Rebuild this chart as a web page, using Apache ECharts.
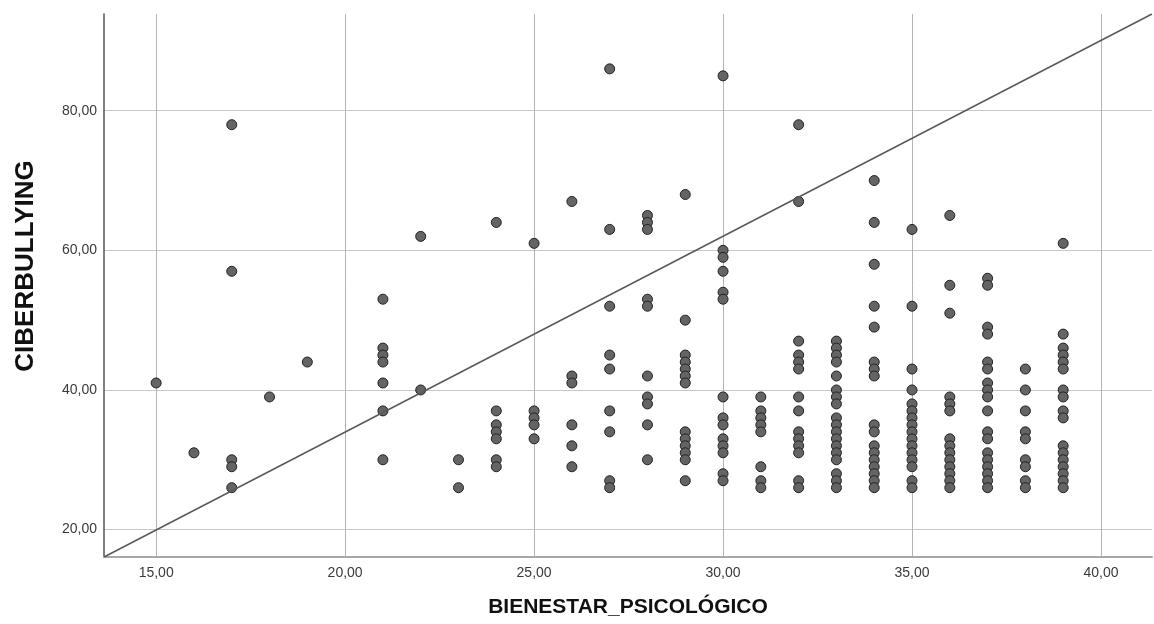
<!DOCTYPE html>
<html>
<head>
<meta charset="utf-8">
<script src="https://cdn.jsdelivr.net/npm/echarts@6/dist/echarts.min.js"></script>
<style>
html,body{margin:0;padding:0;background:#fff;}
#chart{width:1154px;height:624px;}
</style>
</head>
<body>
<div id="chart"></div>
<script>
// ---- data ----
const xAxisTitle = 'BIENESTAR_PSICOLÓGICO';
const yAxisTitle = 'CIBERBULLYING';
const xRange = [13.62, 41.35];
const yRange = [16.07, 93.86];
const bienestarLevels = [15, 16, 17, 18, 19, 21, 22, 23, 24, 25, 26, 27, 28, 29, 30, 31, 32, 33, 34, 35, 36, 37, 38, 39];
const ciberbullyingByLevel = [
  [41],
  [31],
  [78, 57, 30, 29, 26],
  [39],
  [44],
  [53, 46, 45, 44, 41, 37, 30],
  [62, 40],
  [30, 26],
  [64, 37, 35, 34, 33, 30, 29],
  [61, 37, 36, 35, 33],
  [67, 42, 41, 35, 32, 29],
  [86, 63, 52, 45, 43, 37, 34, 27, 26],
  [65, 64, 63, 53, 52, 42, 39, 38, 35, 30],
  [68, 50, 45, 44, 43, 42, 41, 34, 33, 32, 31, 30, 27],
  [85, 60, 59, 57, 54, 53, 39, 36, 35, 33, 32, 31, 28, 27],
  [39, 37, 36, 35, 34, 29, 27, 26],
  [78, 67, 47, 45, 44, 43, 39, 37, 34, 33, 32, 31, 27, 26],
  [47, 46, 45, 44, 42, 40, 39, 38, 36, 35, 34, 33, 32, 31, 30, 28, 27, 26],
  [70, 64, 58, 52, 49, 44, 43, 42, 35, 34, 32, 31, 30, 29, 28, 27, 26],
  [63, 52, 43, 40, 38, 37, 36, 35, 34, 33, 32, 31, 30, 29, 27, 26],
  [65, 55, 51, 39, 38, 37, 33, 32, 31, 30, 29, 28, 27, 26],
  [56, 55, 49, 48, 44, 43, 41, 40, 39, 37, 34, 33, 31, 30, 29, 28, 27, 26],
  [43, 40, 37, 34, 33, 30, 29, 27, 26],
  [61, 48, 46, 45, 44, 43, 40, 39, 37, 36, 32, 31, 30, 29, 28, 27, 26]
];

// ---- build series data ----
const points = [];
bienestarLevels.forEach((x, i) => {
  ciberbullyingByLevel[i].forEach(y => points.push([x, y]));
});
const refLine = [[xRange[0], yRange[0]], [xRange[1], yRange[1]]];

const fmt = v => v.toFixed(2).replace('.', ',');
const FONT = '"Liberation Sans", Arial, sans-serif';

const chart = echarts.init(document.getElementById('chart'), null, {renderer: 'canvas'});
chart.setOption({
  animation: false,
  backgroundColor: '#ffffff',
  grid: {left: 104, right: 2, top: 14, bottom: 67, containLabel: false},
  xAxis: {
    type: 'value',
    min: xRange[0],
    max: xRange[1],
    splitNumber: 5,
    axisLine: {show: true, onZero: false, lineStyle: {color: '#a8a8a8', width: 2}},
    axisTick: {show: false},
    axisLabel: {
      formatter: fmt, color: '#3a3a3a', fontFamily: FONT, fontSize: 14, margin: 9,
      showMinLabel: false, showMaxLabel: false
    },
    splitLine: {show: true, showMinLine: false, showMaxLine: false, lineStyle: {color: '#b4b4b4', width: 1}}
  },
  yAxis: {
    type: 'value',
    min: yRange[0],
    max: yRange[1],
    splitNumber: 5,
    axisLine: {show: true, onZero: false, lineStyle: {color: '#555', width: 1.5}},
    axisTick: {show: false},
    axisLabel: {
      formatter: fmt, color: '#3a3a3a', fontFamily: FONT, fontSize: 14, margin: 7,
      showMinLabel: false, showMaxLabel: false
    },
    splitLine: {show: true, showMinLine: false, showMaxLine: false, lineStyle: {color: '#c8c8c8', width: 1}}
  },
  graphic: [
    {
      type: 'text', x: 628, y: 607,
      style: {text: xAxisTitle, font: 'bold 21px ' + FONT, fill: '#111', textAlign: 'center', textVerticalAlign: 'middle'}
    },
    {
      type: 'text', x: 26, y: 266, rotation: Math.PI / 2,
      style: {text: yAxisTitle, font: 'bold 26px ' + FONT, fill: '#111', textAlign: 'center', textVerticalAlign: 'middle'}
    }
  ],
  series: [
    {
      type: 'scatter',
      data: points,
      symbol: 'circle',
      symbolSize: 10,
      itemStyle: {color: '#646464', borderColor: '#222', borderWidth: 1, opacity: 1},
      z: 2
    },
    {
      type: 'line',
      data: refLine,
      symbol: 'none',
      lineStyle: {color: '#595959', width: 1.5},
      z: 3,
      silent: true
    }
  ]
});
</script>
</body>
</html>
